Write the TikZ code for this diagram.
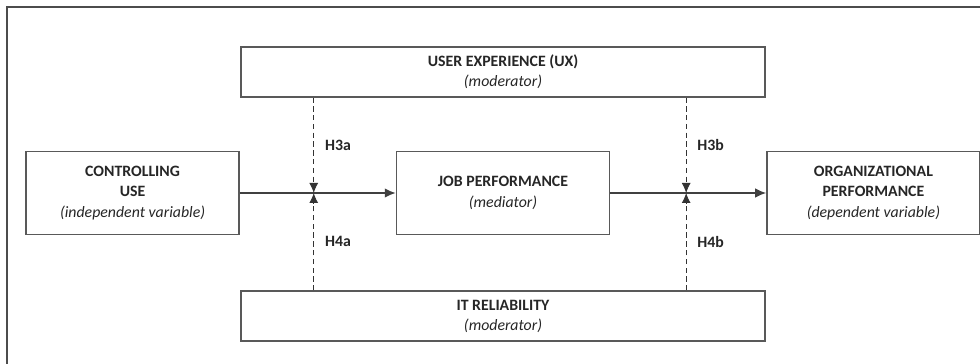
\documentclass[tikz,border=0pt]{standalone}
\usepackage{fontspec}
\setmainfont{Carlito}
\usepackage{xcolor}
\usetikzlibrary{arrows.meta,positioning,calc}

\begin{document}
\begin{tikzpicture}[node distance=1cm, auto,
    block/.style={rectangle, draw=black!65, line width=0.8pt, minimum width=4.26cm, minimum height=1.67cm, align=center, text=black!85, font=\fontsize{9}{11.5}\selectfont},
    modbox/.style={block, minimum width=10.48cm, minimum height=1cm},
    arrow/.style={-{Latex[length=2.2mm,width=1.9mm]}, line width=0.9pt, black!75},
    modarrow/.style={-{Latex[length=2mm,width=1.8mm]}, line width=0.5pt, black!80, dash pattern=on 3pt off 2pt},
    hyp/.style={text=black!85, font=\fontsize{9}{11}\selectfont\bfseries}]
  \useasboundingbox (0,0) rectangle (19.6,-7.28);
  \draw[line width=0.9pt, black!70] (0.14,-7.28) -- (0.14,-0.14) -- (19.6,-0.14);
  \node[block] (job) at (10.06,-3.86) {\textbf{JOB PERFORMANCE}\\\textit{(mediator)}};
  \node[block, left=3.12cm of job] (ctrl) {\textbf{CONTROLLING}\\\textbf{USE}\\\textit{(independent variable)}};
  \node[block, right=3.12cm of job] (org) {\textbf{ORGANIZATIONAL}\\\textbf{PERFORMANCE}\\\textit{(dependent variable)}};
  \node[modbox, above=1.06cm of job] (ux) {\textbf{USER EXPERIENCE (UX)}\\\textit{(moderator)}};
  \node[modbox, below=1.1cm of job] (itr) {\textbf{IT RELIABILITY}\\\textit{(moderator)}};
  \coordinate (m1) at ($(ctrl.east)!0.474!(job.west)$);
  \coordinate (m2) at ($(job.east)!0.487!(org.west)$);
  \draw[arrow] (ctrl.east) -- (job.west);
  \draw[arrow] (job.east) -- (org.west);
  \draw[modarrow] (ux.south -| m1) -- node[hyp, right=1mm, pos=0.5] (h3a) {H3a} (m1);
  \draw[modarrow] (itr.north -| m1) -- node[hyp, right=1mm, pos=0.5] (h4a) {H4a} (m1);
  \draw[modarrow] (ux.south -| m2) -- node[hyp, right=1mm, pos=0.5] (h3b) {H3b} (m2);
  \draw[modarrow] (itr.north -| m2) -- node[hyp, right=1mm, pos=0.5] (h4b) {H4b} (m2);
\end{tikzpicture}
\end{document}
